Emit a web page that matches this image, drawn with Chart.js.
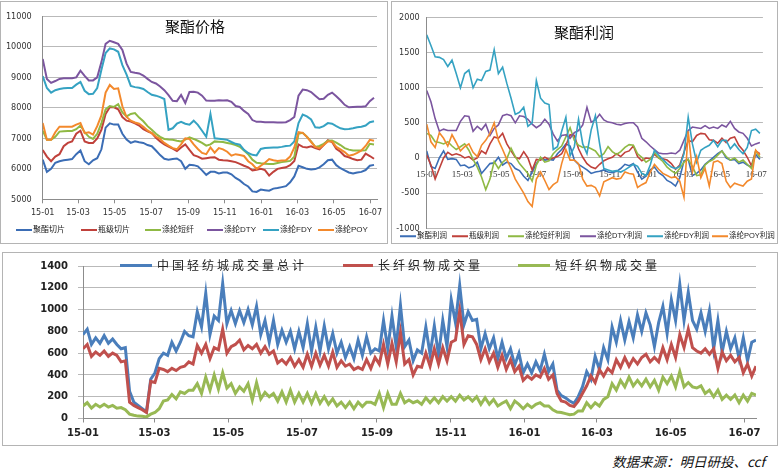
<!DOCTYPE html>
<html><head><meta charset="utf-8">
<script src="https://cdn.jsdelivr.net/npm/chart.js@4.4.1/dist/chart.umd.min.js"></script>
<style>
html,body{margin:0;padding:0;background:#fff;width:782px;height:472px;overflow:hidden;position:relative;}
.panel{position:absolute;border:1px solid #b4b4b4;box-sizing:border-box;}
canvas{position:absolute;}
.ttl{position:absolute;font-family:'Noto Sans CJK SC',sans-serif;font-size:15px;color:#111;transform:translate(-50%,-50%);white-space:nowrap;line-height:1;}
.lg{position:absolute;display:flex;align-items:center;white-space:nowrap;transform:translateY(-50%);color:#222;line-height:1;}
.lg i{display:inline-block;flex:none;}
.src{position:absolute;left:612px;top:462px;transform:translateY(-50%);font-family:'Noto Sans CJK SC',sans-serif;font-size:13.5px;font-style:italic;color:#111;white-space:nowrap;line-height:1;}
</style></head><body>
<div class="panel" style="left:0;top:1px;width:388px;height:243px"></div>
<div class="panel" style="left:391px;top:1px;width:387px;height:243px"></div>
<div class="panel" style="left:2px;top:252px;width:776px;height:194px"></div>
<canvas id="c1" width="388" height="244" style="left:0;top:0"></canvas>
<canvas id="c2" width="386" height="244" style="left:392px;top:0"></canvas>
<canvas id="c3" width="775" height="196" style="left:3px;top:250px"></canvas>
<div class="ttl" style="left:195px;top:25px">聚酯价格</div>
<div class="ttl" style="left:584px;top:31px">聚酯利润</div>
<div class="src">数据来源：明日研投、ccf</div>
<script>
// ---------- categories (days since 2015-01-01) ----------
const monthTickDays   = [0, 59, 120, 181, 243, 304, 365, 425, 486, 547];
const monthTickLabels = ['15-01','15-03','15-05','15-07','15-09','15-11','16-01','16-03','16-05','16-07'];
const weekDays = Array.from({length: 80}, (_, i) => i * 7);        // weekly samples, top charts
const halfWeekDays = Array.from({length: 160}, (_, i) => i * 3.5);  // half-week samples, bottom chart

// ---------- 聚酯价格 (元/吨) ----------
const priceLabels = ['聚酯切片','瓶级切片','涤纶短纤','涤纶DTY','涤纶FDY','涤纶POY'];
const priceChip = [6300,5900,6000,6200,6250,6280,6300,6320,6480,6600,6250,6150,6280,6350,6640,7350,7490,7450,7450,7150,6960,6850,6900,6870,6850,6780,6740,6600,6450,6330,6300,6320,6340,6250,6000,6130,6120,6080,5950,5800,5900,5900,5850,5880,5880,5820,5700,5620,5500,5420,5260,5240,5320,5300,5280,5350,5370,5400,5430,5560,5750,6100,6050,6000,5980,5990,6050,6150,6280,6300,6120,6020,5950,5880,5850,5880,5900,5960,6100,6130];
const priceBottle = [6620,6400,6250,6400,6480,6740,6850,6900,7150,7250,6900,6850,6850,7000,7280,7800,8020,8020,7950,7700,7580,7550,7490,7420,7300,7230,7170,7020,6900,6800,6730,6660,6580,6700,6800,6620,6450,6400,6330,6350,6370,6380,6300,6280,6270,6250,6220,6160,6100,6050,5950,5970,6000,5960,5780,5900,6000,6030,6050,6120,6260,6800,6720,6700,6740,6680,6640,6780,6940,6880,6660,6560,6420,6380,6320,6280,6300,6500,6420,6330];
const priceStaple = [7250,6950,6950,7050,7220,7230,7240,7240,7300,7420,7200,7050,6980,7150,7500,7950,8060,8030,8120,7850,7720,7800,7830,7680,7560,7400,7280,7150,7050,6980,6960,6950,6920,6900,6960,7030,6980,6920,6850,6760,6800,6900,6890,6880,6850,6820,6780,6720,6600,6480,6300,6200,6180,6170,6160,6160,6190,6220,6240,6260,6400,7150,7180,7050,6900,6720,6750,6820,6920,6930,6860,6780,6680,6630,6600,6600,6600,6610,6820,6800];
const priceDty = [9600,8950,8820,8880,8950,8970,8970,8970,9000,9220,9050,8900,8900,9000,9500,10100,10200,10150,10100,9900,9450,9180,9150,9130,9060,8950,8850,8800,8700,8580,8420,8230,8220,8420,8160,8520,8530,8500,8400,8240,8230,8230,8250,8240,8250,8200,8060,8030,7900,7800,7600,7540,7540,7530,7530,7530,7520,7520,7530,7600,7700,8400,8600,8580,8520,8400,8280,8300,8430,8500,8380,8250,8100,8020,8030,8040,8040,8050,8220,8330];
const priceFdy = [9040,8650,8500,8580,8620,8640,8650,8650,8760,8850,8560,8450,8460,8650,9250,9800,9950,9920,9840,9400,9090,8720,8680,8660,8620,8520,8430,8400,8350,8290,7280,7330,7480,7540,7480,7450,7580,7440,7250,7050,7800,7000,6990,6970,6950,6880,6820,6790,6620,6520,6460,6440,6650,6680,6690,6700,6700,6720,6750,6760,6900,7500,7780,7720,7620,7360,7350,7400,7500,7480,7400,7330,7300,7310,7330,7360,7380,7420,7530,7560];
const pricePoy = [7500,6950,6950,7200,7380,7380,7380,7380,7450,7500,7170,7200,7120,7400,7750,8500,8750,8620,8640,8050,7700,7580,7520,7480,7380,7260,7170,7060,6980,6850,6760,6680,6640,6800,7000,6980,6800,6650,6520,6480,6700,6530,6680,6640,6560,6430,6480,6450,6420,6250,6150,6000,6100,6200,6320,6280,6260,6270,6280,6400,6700,7200,7180,7050,6880,6720,6680,6780,6900,6900,6720,6640,6550,6430,6460,6520,6600,6750,6950,6920];

// ---------- 聚酯利润 (元/吨) ----------
const profitLabels = ['聚酯利润','瓶级利润','涤纶短纤利润','涤纶DTY利润','涤纶FDY利润','涤纶POY利润'];
const profitChip = [100,-120,-150,0,100,-20,-10,-20,-110,-100,-140,-120,-60,-220,-150,-80,-70,10,-100,-60,-80,-150,-180,-260,-320,-200,-80,0,-30,-20,-30,60,120,200,170,-30,-90,-130,-170,-220,-200,-190,-170,-200,-210,-190,-150,-90,-110,-80,-200,-300,-260,-170,-130,-210,-250,-320,-350,-400,-280,-40,-20,-250,-220,-170,-90,-40,10,60,100,0,-30,-20,-80,-60,-100,-130,50,-20];
const profitBottle = [40,-100,-300,-150,0,80,40,60,40,0,20,-30,0,100,60,200,300,280,350,200,100,10,-10,90,0,-170,-20,-30,10,-20,0,20,60,180,330,320,130,10,-80,-130,-150,-90,-40,-10,10,60,20,80,100,170,20,-40,0,-10,50,0,-10,-30,-80,-160,-100,80,250,230,320,350,340,260,250,210,280,220,280,300,180,110,10,-110,100,60];
const profitStaple = [350,320,230,220,200,230,170,120,160,200,110,-20,-130,-270,-450,-300,-50,-150,-60,-10,140,20,-80,-150,-220,-330,-100,10,-60,-40,60,120,170,300,430,250,180,150,160,130,100,20,60,160,90,50,90,150,190,180,60,10,-60,-20,80,0,-50,-130,-180,-220,-150,-60,-20,-120,-250,-240,-100,-50,-20,40,100,20,-30,0,-60,-30,-90,-150,100,10];
const profitDty = [960,800,560,380,410,390,390,390,520,600,590,380,450,400,480,320,420,470,600,620,600,500,600,590,550,480,430,470,550,480,340,240,320,330,280,360,390,470,720,510,540,620,540,510,500,480,470,490,500,500,440,280,230,170,120,70,60,60,70,60,110,250,390,440,430,420,460,420,440,420,470,440,520,420,370,350,280,170,200,220];
const profitFdy = [1750,1600,1440,1430,1400,1300,1390,1200,1000,1200,1250,1000,1120,1100,1230,1250,1540,1200,1290,1060,850,620,650,720,450,500,1100,850,780,760,120,160,380,580,30,160,550,200,60,400,600,200,-150,-170,-190,-180,-200,-170,-130,-90,-120,-220,-250,-100,110,40,-20,-80,-130,-150,-120,60,580,200,-60,110,150,180,250,160,250,250,130,200,120,60,150,390,410,350];
const profitPoy = [480,230,150,360,280,170,330,220,100,160,200,80,20,180,250,350,500,250,120,-20,-150,-300,-400,-500,-620,-690,-300,-200,-320,-450,-380,-340,-80,120,-30,-30,-80,-300,-400,-390,-420,-540,-340,-310,-280,-300,-290,-200,-220,-230,-420,-380,-350,-200,-90,-160,-220,-250,-280,-270,-330,-560,380,-200,20,-280,-150,-400,-60,-40,-80,-330,-420,-360,-380,-400,-330,-300,110,40];

// ---------- 中国轻纺城成交量 (万米) ----------
const volumeLabels = ['中国轻纺城成交量总计','长纤织物成交量','短纤织物成交量'];
const volumeTotal = [770,820,680,740,690,760,690,730,680,640,650,250,150,120,90,60,360,420,550,600,580,700,620,700,800,760,750,980,840,1150,770,940,900,1240,870,990,870,990,880,1000,860,1030,770,900,700,900,680,810,700,800,640,800,650,870,620,840,620,850,640,780,600,700,560,660,550,720,580,750,600,640,620,900,640,940,660,1040,660,720,530,630,600,840,590,850,580,900,660,1090,880,1220,860,980,900,910,640,780,640,740,550,700,550,640,490,600,420,500,420,520,440,590,430,500,260,210,190,160,140,200,290,430,360,570,450,650,540,840,700,900,720,890,740,950,800,970,860,660,880,1030,780,1090,900,1230,900,1160,900,820,970,800,990,640,900,610,800,640,740,550,740,530,700,720];
const volumeFilament = [640,680,570,610,580,620,570,600,580,520,530,150,120,100,80,55,340,330,460,450,430,460,440,470,480,520,500,670,600,680,550,650,630,820,600,660,680,720,630,670,640,680,600,660,590,620,510,540,500,560,480,540,470,590,480,600,490,580,480,610,470,530,480,500,450,470,450,540,460,560,500,680,500,690,520,790,500,540,400,480,470,600,480,640,500,650,530,700,720,990,680,760,750,680,540,640,520,600,470,580,450,540,430,480,350,390,360,400,380,460,360,400,230,160,150,120,110,160,230,300,390,330,450,390,460,420,540,470,560,480,550,500,560,590,520,560,520,650,540,680,560,770,650,820,650,620,600,640,590,640,460,610,530,580,520,560,420,500,390,480];
const volumeStaple = [115,145,95,130,105,130,105,120,95,100,80,40,30,22,20,15,40,55,90,160,170,220,180,245,230,260,260,320,230,380,260,400,270,420,280,320,230,290,250,320,170,330,180,240,200,230,160,245,150,260,150,230,150,230,140,230,140,200,130,180,115,150,100,150,90,150,110,150,150,130,230,100,230,130,130,230,145,170,145,160,130,190,145,190,145,200,160,200,160,215,170,200,160,200,130,190,130,175,115,140,160,90,160,130,90,130,100,130,145,115,115,80,60,55,45,35,40,70,70,145,100,145,115,175,200,320,260,350,290,380,300,350,300,360,290,350,260,380,320,390,290,430,290,330,290,280,300,230,260,200,260,175,215,175,215,145,215,160,230,215];

// ---------- styling ----------
const topColors = ['#3b6db5','#c0413b','#8fb944','#7b559f','#35a2c2','#f3892c'];
const volColors = ['#4a7ebb','#c0504d','#98b954'];
const NARROW = "'Liberation Sans Narrow','DejaVu Sans Condensed','Liberation Sans',sans-serif";
const GRID = '#b9b9b9';
const plainNum = v => String(v);

function makeSets(labels, series, colors, width) {
  return series.map((d, i) => ({
    label: labels[i], data: d, borderColor: colors[i], backgroundColor: colors[i],
    borderWidth: width, pointRadius: 0, pointHoverRadius: 0, tension: 0, fill: false,
    order: series.length - i
  }));
}
function monthTicks(scale) { scale.ticks = monthTickDays.map(v => ({value: v})); }
const monthLabel = (v, i) => monthTickLabels[i];

function buildLegend(labels, colors, cfg) {
  labels.forEach((lab, k) => {
    const d = document.createElement('div');
    d.className = 'lg';
    d.style.left = cfg.xs[k] + 'px';
    d.style.top = cfg.y + 'px';
    d.style.fontFamily = cfg.family;
    d.style.fontSize = cfg.size + 'px';
    if (cfg.spacing) d.style.letterSpacing = cfg.spacing + 'px';
    const sw = document.createElement('i');
    sw.style.width = (Array.isArray(cfg.lineW) ? cfg.lineW[k] : cfg.lineW) + 'px';
    sw.style.height = cfg.lineH + 'px';
    sw.style.background = colors[k];
    sw.style.marginRight = cfg.gap + 'px';
    const t = document.createElement('span');
    t.textContent = lab;
    d.append(sw, t);
    document.body.appendChild(d);
  });
}

// ---------- chart 1: 聚酯价格 ----------
new Chart(document.getElementById('c1'), {
  type: 'line',
  data: { labels: weekDays, datasets: makeSets(priceLabels, [priceChip, priceBottle, priceStaple, priceDty, priceFdy, pricePoy], topColors, 2) },
  options: {
    responsive: false, animation: false, events: [],
    layout: { padding: { left: 0, right: 11, top: 12, bottom: 24.7 } },
    plugins: { legend: { display: false }, tooltip: { enabled: false }, title: { display: false } },
    scales: {
      x: { type: 'linear', min: 0, max: 558, afterFit: s => { s.height = 20; }, afterBuildTicks: monthTicks,
           ticks: { autoSkip: false, maxRotation: 0, padding: 4, color: '#333', font: { size: 9, family: NARROW }, callback: monthLabel },
           grid: { drawOnChartArea: false, drawTicks: true, tickLength: 4, color: '#8c8c8c' }, border: { color: '#8c8c8c' } },
      y: { min: 5000, max: 11000, afterFit: s => { s.width = 42.7; },
           ticks: { stepSize: 1000, padding: 11, color: '#333', font: { size: 9, family: NARROW }, callback: plainNum },
           grid: { color: GRID, drawTicks: false }, border: { color: '#8c8c8c' } }
    }
  }
});
buildLegend(priceLabels, topColors, { xs: [16, 81, 145, 207, 263, 318], y: 230, family: "'Liberation Sans','Noto Sans CJK SC',sans-serif", size: 8, lineW: 16, lineH: 2, gap: 1 });

// ---------- chart 2: 聚酯利润 ----------
new Chart(document.getElementById('c2'), {
  type: 'line',
  data: { labels: weekDays, datasets: makeSets(profitLabels, [profitChip, profitBottle, profitStaple, profitDty, profitFdy, profitPoy], topColors, 1.6) },
  options: {
    responsive: false, animation: false, events: [],
    layout: { padding: { left: 0, right: 11.3, top: 17.3, bottom: 15.7 } },
    plugins: { legend: { display: false }, tooltip: { enabled: false }, title: { display: false } },
    scales: {
      x: { type: 'linear', axis: 'x', position: { y: 0 }, min: 0, max: 558, afterBuildTicks: monthTicks,
           ticks: { autoSkip: false, maxRotation: 0, padding: 11, color: '#333', font: { size: 9, family: "'Liberation Serif',serif" }, callback: monthLabel },
           grid: { drawOnChartArea: false, drawTicks: false }, border: { color: GRID } },
      y: { min: -1000, max: 2000, afterFit: s => { s.width = 34.7; },
           ticks: { stepSize: 500, padding: 7, color: '#333', font: { size: 9, family: NARROW }, callback: plainNum },
           grid: { color: GRID, drawTicks: false }, border: { color: '#8c8c8c' } }
    }
  }
});
buildLegend(profitLabels, topColors, { xs: [400, 452, 508, 580, 647, 712], y: 236, family: "'Liberation Sans','Noto Sans CJK SC',sans-serif", size: 7.5, lineW: 16, lineH: 2, gap: 1 });

// ---------- chart 3: 轻纺城成交量 ----------
new Chart(document.getElementById('c3'), {
  type: 'line',
  data: { labels: halfWeekDays, datasets: makeSets(volumeLabels, [volumeTotal, volumeFilament, volumeStaple], volColors, 3) },
  options: {
    responsive: false, animation: false, events: [],
    layout: { padding: { left: 0, right: 22, top: 7, bottom: 7.5 } },
    plugins: { legend: { display: false }, tooltip: { enabled: false }, title: { display: false } },
    scales: {
      x: { type: 'linear', min: 0, max: 556.5, afterFit: s => { s.height = 20; }, afterBuildTicks: monthTicks,
           ticks: { autoSkip: false, maxRotation: 0, padding: 4.5, color: '#222', font: { size: 10, weight: 'bold', family: "'DejaVu Sans',sans-serif" }, callback: monthLabel },
           grid: { drawOnChartArea: false, drawTicks: true, tickLength: 4, color: '#8c8c8c' }, border: { color: '#8c8c8c' } },
      y: { min: 0, max: 1400, afterFit: s => { s.width = 80; },
           ticks: { stepSize: 200, padding: 10, color: '#222', font: { size: 10, weight: 'bold', family: "'DejaVu Sans',sans-serif" }, callback: plainNum },
           grid: { color: GRID, drawTicks: true, tickLength: 5 }, border: { color: '#8c8c8c' } }
    }
  }
});
buildLegend(volumeLabels, volColors, { xs: [120, 343, 518], y: 265, family: "'Noto Sans CJK SC',sans-serif", size: 12, spacing: 3, lineW: [32, 30, 32], lineH: 3, gap: 5 });
</script>
</body></html>
